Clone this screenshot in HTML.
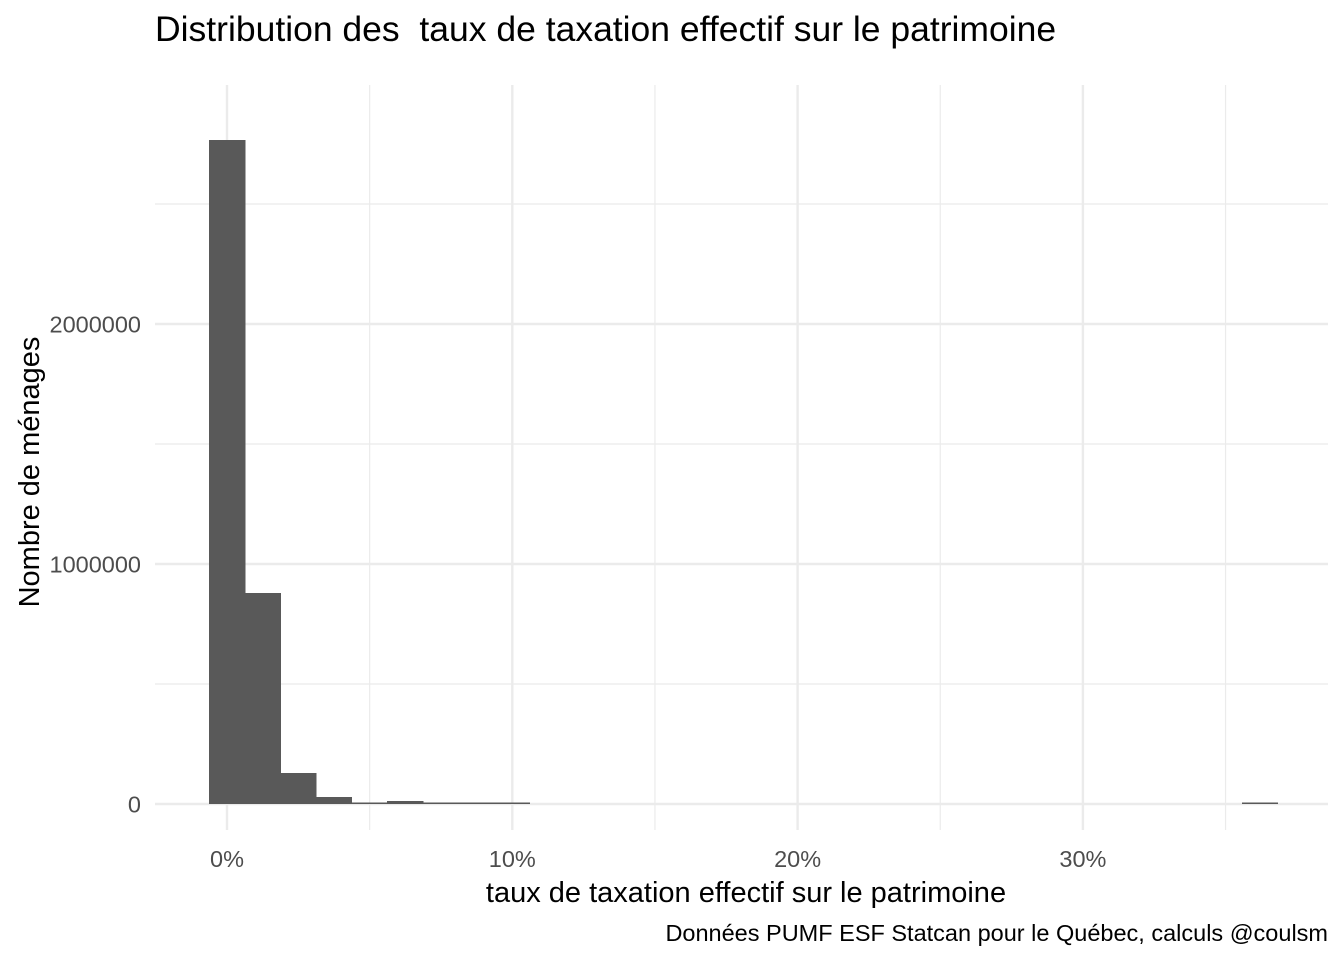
<!DOCTYPE html>
<html><head><meta charset="utf-8"><style>
body{margin:0;background:#fff;font-family:"Liberation Sans",sans-serif}
</style></head><body>
<svg id="c" width="1344" height="960" xmlns="http://www.w3.org/2000/svg" font-family="Liberation Sans, sans-serif">
<text x="155" y="41" font-size="35.5" fill="#000" style="white-space:pre">Distribution des&#160; taux de taxation effectif sur le patrimoine</text>
<g id="grid"></g><g id="bars"></g><g id="ticks"></g>
<text x="746" y="902" font-size="29" text-anchor="middle" fill="#000">taux de taxation effectif sur le patrimoine</text>
<text transform="translate(39,472) rotate(-90)" font-size="29" text-anchor="middle" fill="#000">Nombre de ménages</text>
<text x="1328" y="941" font-size="23.5" text-anchor="end" fill="#000">Données PUMF ESF Statcan pour le Québec, calculs @coulsm</text>
</svg>
<script>
const binCenters=[0,1.248,2.496,3.744,4.992,6.24,7.488,8.736,9.984,11.232,12.48,13.728,14.976,16.224,17.472,18.72,19.968,21.216,22.464,23.712,24.96,26.208,27.456,28.704,29.952,31.2,32.448,33.696,34.944,36.192];
const counts=[2767000,879000,129000,29000,3000,12500,2000,2000,2000,0,0,0,0,0,0,0,0,0,0,0,0,0,0,0,0,0,0,0,0,2000];
const binWidth=1.248;
const xTicks=[0,10,20,30];
const xTickLabels=["0%","10%","20%","30%"];
const xMinor=[5,15,25,35];
const yTicks=[0,1000000,2000000];
const yTickLabels=["0","1000000","2000000"];
const yMinor=[500000,1500000,2500000];
const X=v=>227+v*28.53, Y=v=>804-v*0.00024;
const ns="http://www.w3.org/2000/svg";
function mk(t,a,p){const e=document.createElementNS(ns,t);for(const k in a)e.setAttribute(k,a[k]);p.appendChild(e);return e;}
const g=document.getElementById('grid'),b=document.getElementById('bars'),tk=document.getElementById('ticks');
xMinor.forEach(v=>{const l=mk('line',{x1:X(v),x2:X(v),y1:85,y2:830,stroke:'#ebebeb','stroke-width':1.2},g);

});
yMinor.forEach(v=>{const l=mk('line',{x1:155,x2:1328,y1:Y(v),y2:Y(v),stroke:'#ebebeb','stroke-width':1.2},g);

});
xTicks.forEach((v,i)=>{const l=mk('line',{x1:X(v),x2:X(v),y1:85,y2:830,stroke:'#ebebeb','stroke-width':2.4},g);


const t=mk('text',{x:X(v),y:867,'font-size':23.5,'text-anchor':'middle',fill:'#4d4d4d'},tk);t.textContent=xTickLabels[i];

});
yTicks.forEach((v,i)=>{const l=mk('line',{x1:155,x2:1328,y1:Y(v),y2:Y(v),stroke:'#ebebeb','stroke-width':2.4},g);


const t=mk('text',{x:141,y:Y(v)+8.5,'font-size':23.5,'text-anchor':'end',fill:'#4d4d4d'},tk);t.textContent=yTickLabels[i];

});
counts.forEach((c,i)=>{if(c<=0)return;const x0=X(binCenters[i]-binWidth/2),x1=X(binCenters[i]+binWidth/2);
const h=Math.max(Y(0)-Y(c),1.5);
const r=mk('rect',{x:x0,y:Y(0)-h,width:x1-x0+0.6,height:h,fill:'#595959','shape-rendering':'crispEdges'},b);

});
</script>
</body></html>
